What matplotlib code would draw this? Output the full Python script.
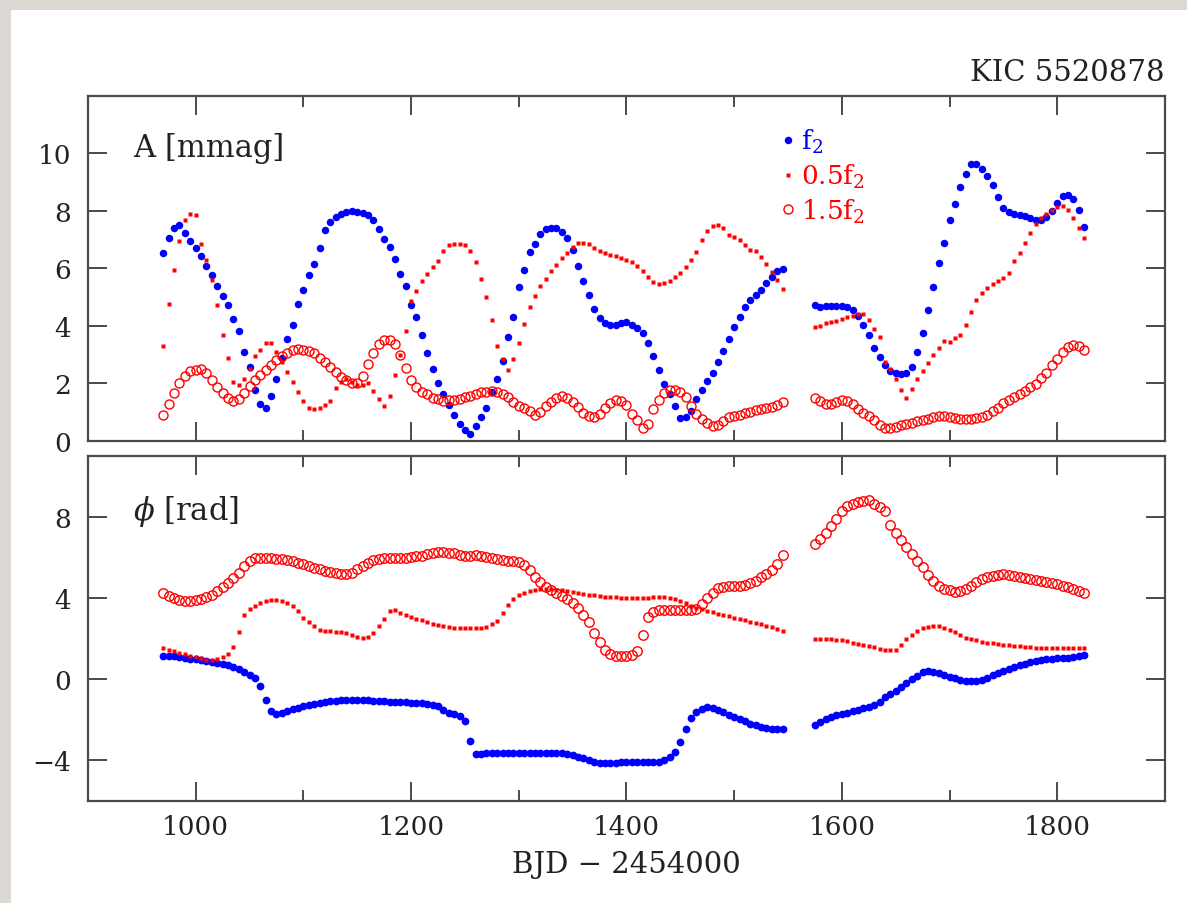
import numpy as np
import matplotlib.pyplot as plt
from matplotlib.patches import Rectangle
from matplotlib.ticker import MultipleLocator

plt.rcParams['font.family'] = 'DejaVu Serif'
plt.rcParams['mathtext.fontset'] = 'dejavuserif'

# time grid (BJD - 2454000), two observing blocks with a gap
t_first = np.arange(970, 1550, 5)
t_second = np.arange(1575, 1830, 5)
bjd = np.concatenate([t_first, t_second])

# amplitudes [mmag]
amp_f2 = [
    6.55, 7.05, 7.40, 7.50, 7.25, 6.95, 6.70, 6.42, 6.10, 5.78,
    5.38, 5.05, 4.73, 4.25, 3.83, 3.10, 2.59, 1.78, 1.28, 1.16,
    1.57, 2.17, 2.90, 3.55, 4.02, 4.75, 5.24, 5.76, 6.17, 6.72,
    7.33, 7.63, 7.78, 7.88, 7.95, 8.00, 7.98, 7.94, 7.86, 7.70,
    7.36, 7.03, 6.74, 6.32, 5.82, 5.39, 4.72, 4.31, 3.68, 3.05,
    2.50, 2.03, 1.65, 1.26, 0.90, 0.58, 0.38, 0.23, 0.52, 0.85,
    1.15, 1.70, 2.15, 2.78, 3.62, 4.30, 5.36, 5.95, 6.58, 6.85,
    7.19, 7.38, 7.42, 7.40, 7.28, 7.07, 6.65, 6.10, 5.55, 5.08,
    4.58, 4.29, 4.12, 4.03, 4.03, 4.10, 4.13, 4.05, 3.94, 3.74,
    3.42, 2.96, 2.47, 1.98, 1.62, 1.22, 0.81, 0.84, 1.04, 1.45,
    1.78, 2.10, 2.36, 2.74, 3.14, 3.53, 3.98, 4.32, 4.65, 4.90,
    5.07, 5.24, 5.48, 5.72, 5.90, 5.99,
    # second block
    4.72, 4.65, 4.68, 4.70, 4.70, 4.70, 4.66, 4.55, 4.33, 4.05,
    3.70, 3.25, 2.92, 2.65, 2.45, 2.35, 2.33, 2.38, 2.58, 3.08,
    3.75, 4.55, 5.35, 6.20, 6.90, 7.70, 8.25, 8.85, 9.30, 9.62,
    9.63, 9.47, 9.22, 8.90, 8.47, 8.12, 7.95, 7.88, 7.85, 7.83,
    7.75, 7.67, 7.68, 7.80, 8.00, 8.27, 8.52, 8.57, 8.42, 8.05,
    7.45,
]
amp_half = [
    3.30, 4.75, 5.95, 6.95, 7.70, 7.88, 7.85, 6.84, 6.30, 5.60,
    4.72, 3.70, 2.90, 2.05, 1.95, 2.15, 2.50, 2.95, 3.18, 3.42,
    3.40, 3.10, 2.75, 2.40, 2.05, 1.70, 1.38, 1.16, 1.10, 1.15,
    1.25, 1.38, 1.85, 2.05, 2.15, 2.05, 1.95, 1.95, 2.00, 1.75,
    1.45, 1.20, 1.55, 2.30, 3.00, 3.83, 4.87, 5.20, 5.55, 5.80,
    6.05, 6.26, 6.60, 6.80, 6.84, 6.84, 6.80, 6.62, 6.24, 5.62,
    5.00, 4.20, 3.30, 2.84, 2.47, 2.84, 3.42, 4.06, 4.67, 5.05,
    5.38, 5.64, 5.90, 6.12, 6.35, 6.55, 6.76, 6.87, 6.90, 6.86,
    6.72, 6.62, 6.53, 6.47, 6.42, 6.37, 6.31, 6.22, 6.08, 5.92,
    5.72, 5.54, 5.45, 5.48, 5.58, 5.70, 5.85, 6.05, 6.30, 6.58,
    7.00, 7.30, 7.48, 7.50, 7.40, 7.18, 7.10, 6.98, 6.82, 6.66,
    6.60, 6.40, 6.15, 5.88, 5.60, 5.30,
    # second block
    3.98, 4.00, 4.12, 4.15, 4.18, 4.25, 4.30, 4.34, 4.40, 4.42,
    4.22, 3.90, 3.60, 2.75, 2.50, 2.15, 1.78, 1.48, 1.80, 2.15,
    2.42, 2.72, 3.00, 3.25, 3.48, 3.45, 3.57, 3.68, 4.05, 4.50,
    4.90, 5.15, 5.33, 5.45, 5.57, 5.67, 5.85, 6.26, 6.55, 6.90,
    7.25, 7.55, 7.75, 7.90, 8.05, 8.13, 8.17, 8.03, 7.77, 7.42,
    7.05,
]
amp_3half = [
    0.90, 1.30, 1.68, 2.02, 2.27, 2.43, 2.48, 2.50, 2.35, 2.12,
    1.86, 1.68, 1.48, 1.39, 1.45, 1.66, 1.90, 2.12, 2.31, 2.48,
    2.65, 2.81, 2.94, 3.07, 3.15, 3.19, 3.18, 3.12, 3.05, 2.90,
    2.75, 2.57, 2.40, 2.24, 2.11, 2.02, 2.01, 2.25, 2.68, 3.05,
    3.38, 3.50, 3.50, 3.36, 3.00, 2.55, 2.12, 1.88, 1.72, 1.62,
    1.51, 1.46, 1.40, 1.42, 1.44, 1.46, 1.52, 1.58, 1.64, 1.69,
    1.72, 1.75, 1.70, 1.64, 1.52, 1.36, 1.23, 1.13, 1.04, 0.90,
    1.00, 1.21, 1.37, 1.50, 1.56, 1.50, 1.37, 1.17, 0.97, 0.88,
    0.82, 0.95, 1.15, 1.32, 1.42, 1.40, 1.26, 0.95, 0.72, 0.45,
    0.60, 1.10, 1.44, 1.68, 1.77, 1.78, 1.72, 1.52, 1.20, 0.95,
    0.76, 0.62, 0.52, 0.55, 0.70, 0.82, 0.88, 0.92, 0.96, 1.01,
    1.06, 1.10, 1.14, 1.19, 1.24, 1.36,
    # second block
    1.51, 1.38, 1.27, 1.29, 1.36, 1.43, 1.40, 1.27, 1.12, 0.98,
    0.87, 0.72, 0.57, 0.44, 0.45, 0.50, 0.54, 0.59, 0.64, 0.69,
    0.74, 0.78, 0.82, 0.87, 0.87, 0.83, 0.79, 0.77, 0.75, 0.78,
    0.80, 0.84, 0.90, 1.03, 1.16, 1.31, 1.41, 1.53, 1.64, 1.75,
    1.86, 1.98, 2.18, 2.38, 2.63, 2.86, 3.10, 3.28, 3.35, 3.32,
    3.15,
]

# phases [rad]
phase_f2 = [
    1.17, 1.15, 1.14, 1.10, 1.06, 1.02, 0.98, 0.93, 0.89, 0.85,
    0.80, 0.76, 0.71, 0.62, 0.50, 0.37, 0.22, 0.06, -0.35, -1.00,
    -1.55, -1.69, -1.67, -1.57, -1.47, -1.40, -1.34, -1.28, -1.22, -1.17,
    -1.13, -1.09, -1.05, -1.03, -1.01, -1.00, -1.00, -1.02, -1.03, -1.05,
    -1.07, -1.08, -1.10, -1.12, -1.13, -1.14, -1.15, -1.16, -1.18, -1.21,
    -1.25, -1.32, -1.50, -1.66, -1.72, -1.80, -2.07, -3.05, -3.67, -3.66,
    -3.65, -3.65, -3.64, -3.63, -3.62, -3.63, -3.64, -3.65, -3.65, -3.65,
    -3.65, -3.64, -3.63, -3.62, -3.65, -3.69, -3.75, -3.83, -3.90, -3.98,
    -4.06, -4.11, -4.13, -4.14, -4.12, -4.09, -4.06, -4.06, -4.06, -4.06,
    -4.06, -4.06, -4.06, -4.00, -3.85, -3.60, -3.10, -2.45, -1.90, -1.60,
    -1.45, -1.37, -1.42, -1.51, -1.63, -1.75, -1.86, -1.97, -2.08, -2.18,
    -2.26, -2.33, -2.39, -2.43, -2.45, -2.45,
    # second block
    -2.24, -2.10, -1.98, -1.86, -1.78, -1.71, -1.65, -1.58, -1.51, -1.44,
    -1.38, -1.26, -1.12, -0.88, -0.72, -0.59, -0.39, -0.20, 0.00, 0.18,
    0.38, 0.40, 0.36, 0.30, 0.21, 0.13, 0.04, -0.03, -0.07, -0.10,
    -0.09, -0.03, 0.08, 0.19, 0.30, 0.40, 0.50, 0.59, 0.68, 0.76,
    0.83, 0.89, 0.94, 0.98, 1.01, 1.03, 1.05, 1.06, 1.09, 1.14,
    1.20,
]
phase_half = [
    1.53, 1.45, 1.37, 1.30, 1.23, 1.16, 1.10, 1.03, 0.97, 0.95,
    1.02, 1.12, 1.25, 1.60, 2.35, 3.15, 3.45, 3.62, 3.74, 3.84,
    3.90, 3.93, 3.88, 3.77, 3.62, 3.35, 3.03, 2.82, 2.62, 2.45,
    2.37, 2.37, 2.35, 2.31, 2.26, 2.16, 2.08, 2.04, 2.10, 2.30,
    2.62, 2.95, 3.38, 3.40, 3.28, 3.18, 3.08, 2.98, 2.90, 2.80,
    2.72, 2.68, 2.62, 2.57, 2.54, 2.54, 2.54, 2.54, 2.54, 2.55,
    2.60, 2.70, 2.87, 3.25, 3.65, 3.95, 4.13, 4.26, 4.35, 4.40,
    4.43, 4.43, 4.43, 4.42, 4.38, 4.35, 4.31, 4.27, 4.22, 4.17,
    4.13, 4.10, 4.07, 4.05, 4.03, 4.01, 4.01, 4.01, 4.01, 4.01,
    4.01, 4.03, 4.05, 4.04, 3.99, 3.95, 3.85, 3.75, 3.63, 3.53,
    3.44, 3.36, 3.30, 3.23, 3.17, 3.10, 3.03, 2.97, 2.90, 2.84,
    2.77, 2.70, 2.64, 2.57, 2.50, 2.40,
    # second block
    1.99, 1.99, 1.99, 1.97, 1.95, 1.92, 1.87, 1.81, 1.76, 1.71,
    1.66, 1.58, 1.50, 1.46, 1.44, 1.43, 1.70, 2.00, 2.20, 2.40,
    2.53, 2.60, 2.65, 2.62, 2.55, 2.45, 2.32, 2.17, 2.05, 1.97,
    1.92, 1.86, 1.81, 1.77, 1.74, 1.71, 1.68, 1.65, 1.63, 1.60,
    1.58, 1.56, 1.55, 1.55, 1.55, 1.55, 1.55, 1.55, 1.55, 1.55,
    1.55,
]
phase_3half = [
    4.24, 4.10, 4.00, 3.92, 3.84, 3.85, 3.90, 3.95, 4.05, 4.16,
    4.35, 4.55, 4.75, 5.00, 5.25, 5.60, 5.85, 5.97, 5.99, 5.99,
    5.98, 5.95, 5.93, 5.90, 5.82, 5.74, 5.66, 5.58, 5.50, 5.41,
    5.36, 5.30, 5.25, 5.21, 5.17, 5.22, 5.42, 5.60, 5.75, 5.87,
    5.93, 5.97, 5.98, 5.98, 5.98, 5.99, 6.02, 6.06, 6.08, 6.15,
    6.21, 6.25, 6.28, 6.24, 6.20, 6.13, 6.08, 6.09, 6.10, 6.07,
    6.03, 5.99, 5.95, 5.90, 5.85, 5.82, 5.78, 5.62, 5.40, 5.05,
    4.78, 4.55, 4.40, 4.25, 4.12, 3.95, 3.77, 3.50, 3.15, 2.80,
    2.30, 1.82, 1.45, 1.24, 1.16, 1.14, 1.15, 1.22, 1.38, 2.20,
    3.05, 3.33, 3.39, 3.41, 3.41, 3.41, 3.41, 3.41, 3.42, 3.48,
    3.70, 4.00, 4.26, 4.48, 4.57, 4.58, 4.59, 4.62, 4.65, 4.72,
    4.86, 5.02, 5.18, 5.40, 5.68, 6.10,
    # second block
    6.65, 6.92, 7.22, 7.55, 7.92, 8.30, 8.52, 8.64, 8.75, 8.80,
    8.82, 8.65, 8.48, 8.30, 7.60, 7.20, 6.88, 6.52, 6.17, 5.84,
    5.51, 5.15, 4.82, 4.60, 4.47, 4.38, 4.32, 4.36, 4.44, 4.62,
    4.80, 4.92, 5.02, 5.10, 5.15, 5.18, 5.13, 5.08, 5.03, 4.98,
    4.94, 4.89, 4.83, 4.78, 4.73, 4.69, 4.62, 4.55, 4.46, 4.36,
    4.26,
]

text_col = '#222222'
frame_col = '#4a4a4a'


def style_axis(ax):
    for sp in ax.spines.values():
        sp.set_linewidth(1.6)
        sp.set_color(frame_col)
    ax.tick_params(which='both', direction='in', top=True, right=True,
                   colors=frame_col, labelcolor=text_col, labelsize=19)
    ax.tick_params(which='major', length=14, width=1.4)
    ax.tick_params(which='minor', length=8, width=1.4)
    ax.tick_params(axis='y', pad=12)
    ax.tick_params(axis='x', pad=9)
    ax.xaxis.set_major_locator(MultipleLocator(200))
    ax.xaxis.set_minor_locator(MultipleLocator(100))
    ax.set_xlim(900, 1900)


fig = plt.figure(figsize=(11.87, 9.04), dpi=100)

# shaded page edge along top and left
fig.patches.append(Rectangle((0, 1 - 11 / 904), 1, 11 / 904, transform=fig.transFigure,
                             facecolor='#dcd9d4', edgecolor='none', zorder=0))
fig.patches.append(Rectangle((0, 0), 11 / 1187, 1, transform=fig.transFigure,
                             facecolor='#dcd9d4', edgecolor='none', zorder=0))

ax1 = fig.add_axes([0.0741, 0.5111, 0.9073, 0.3816])
ax2 = fig.add_axes([0.0741, 0.1128, 0.9073, 0.3816], sharex=ax1)

# amplitude panel
ax1.plot(bjd, amp_f2, 'o', color='blue', ms=5.4, mec='none', label='f$_2$')
ax1.plot(bjd, amp_half, 's', color='red', ms=3.2, mec='none', label='0.5f$_2$')
ax1.plot(bjd, amp_3half, 'o', color='red', ms=6.5, mfc='none', mew=1.0, label='1.5f$_2$')
style_axis(ax1)
ax1.set_ylim(0, 12)
ax1.set_yticks([0, 2, 4, 6, 8, 10])
ax1.tick_params(axis='x', labelbottom=False)
ax1.text(0.042, 0.852, 'A [mmag]', transform=ax1.transAxes, fontsize=22,
         color=text_col, va='center', ha='left')
ax1.text(1.0, 1.03, 'KIC 5520878', transform=ax1.transAxes, fontsize=21,
         color=text_col, va='bottom', ha='right')
leg = ax1.legend(loc='upper left', bbox_to_anchor=(0.645, 0.91), frameon=False,
                 fontsize=19, handlelength=0.4, handletextpad=0.3,
                 labelspacing=0.25, borderaxespad=0, borderpad=0,
                 labelcolor='linecolor')

# phase panel
ax2.plot(bjd, phase_f2, 'o', color='blue', ms=5.6, mec='none')
ax2.plot(bjd, phase_half, 's', color='red', ms=3.2, mec='none')
ax2.plot(bjd, phase_3half, 'o', color='red', ms=6.8, mfc='none', mew=1.0)
style_axis(ax2)
ax2.set_ylim(-6, 11)
ax2.set_yticks([-4, 0, 4, 8])
ax2.text(0.042, 0.843, r'$\phi$ [rad]', transform=ax2.transAxes, fontsize=22,
         color=text_col, va='center', ha='left')
ax2.set_xlabel('BJD \u2212 2454000', fontsize=21, color=text_col, labelpad=8)

fig.savefig('out.png', dpi=100)
